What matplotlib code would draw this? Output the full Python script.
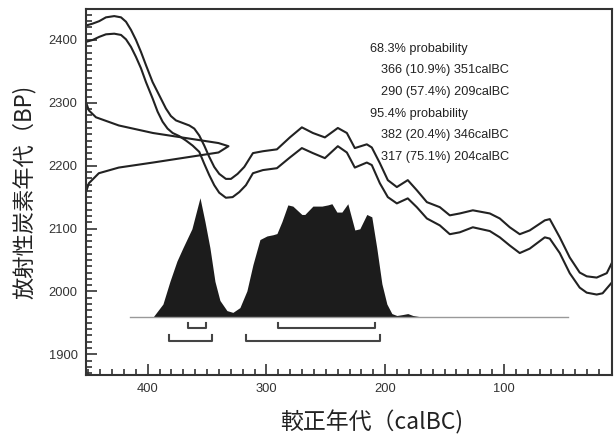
import numpy as np
import matplotlib
matplotlib.use('Agg')
import matplotlib.pyplot as plt

# calibration curve (calBC, BP) - upper envelope
upper_x = [452, 446.4, 440.8, 435.2, 428.2, 422.5, 418.3, 414.1, 409.9, 405.7,
           401.5, 395.9, 390.3, 384.7, 380.5, 376.2, 370.6, 365.0, 360.8, 356.6,
           352.4, 348.2, 344.0, 339.8, 334.2, 329.9, 324.3, 318.7, 311.4, 303.0,
           291.2, 280.3, 270.2, 260.9, 250.8, 239.9, 232.3, 225.6, 215.5, 211.3,
           204.5, 197.8, 190.2, 181.0, 173.4, 164.9, 154.0, 145.6, 137.2, 126.2,
           111.9, 103.5, 95.1, 86.7, 78.3, 65.6, 61.4, 53.0, 44.6, 36.2,
           30.3, 21.9, 13.4, 9.2]
upper_bp = [2423, 2426, 2430, 2436, 2438, 2436, 2429, 2416, 2400, 2381,
            2360, 2333, 2312, 2291, 2279, 2272, 2268, 2264, 2259, 2248,
            2232, 2214, 2198, 2187, 2179, 2179, 2187, 2198, 2220, 2223,
            2226, 2245, 2261, 2252, 2245, 2260, 2252, 2228, 2234, 2229,
            2204, 2177, 2166, 2177, 2161, 2142, 2134, 2121, 2124, 2129,
            2124, 2116, 2102, 2091, 2097, 2113, 2115, 2086, 2054, 2030,
            2024, 2022, 2029, 2045]

# calibration curve - lower envelope
lower_x = [452, 446.4, 440.8, 435.2, 428.2, 422.5, 418.3, 414.1, 409.9, 405.7,
           401.5, 395.9, 391.7, 387.5, 383.3, 379.0, 373.4, 367.8, 362.2, 356.6,
           352.4, 348.2, 344.0, 339.8, 334.2, 328.5, 322.9, 317.3, 311.4, 303.0,
           291.2, 280.3, 270.2, 260.9, 250.8, 239.9, 232.3, 225.6, 215.5, 211.3,
           204.5, 197.8, 190.2, 181.0, 173.4, 164.9, 154.0, 145.6, 137.2, 126.2,
           111.9, 103.5, 95.1, 86.7, 78.3, 65.6, 61.4, 53.0, 44.6, 36.2,
           30.3, 21.9, 16.9, 9.2]
lower_bp = [2397, 2400, 2405, 2409, 2410, 2408, 2401, 2389, 2373, 2355,
            2333, 2307, 2286, 2270, 2259, 2252, 2247, 2240, 2232, 2222,
            2203, 2185, 2169, 2157, 2149, 2150, 2158, 2169, 2188, 2193,
            2196, 2213, 2228, 2220, 2212, 2231, 2221, 2197, 2205, 2201,
            2172, 2150, 2140, 2148, 2134, 2116, 2105, 2091, 2094, 2102,
            2096, 2086, 2073, 2061, 2068, 2086, 2084, 2061, 2029, 2006,
            1998, 1995, 1997, 2014]

# measured radiocarbon age distribution (BP, relative probability)
meas_bp = [2301, 2288, 2277, 2264, 2252, 2244, 2236, 2231, 2221, 2213,
           2205, 2197, 2188, 2172, 2158]
meas_p = [0.0, 0.02, 0.07, 0.23, 0.47, 0.70, 0.93, 1.0, 0.93, 0.70,
          0.47, 0.23, 0.09, 0.02, 0.0]

# calibrated date distribution (calBC, relative probability)
cal_x = [415, 395.6, 387.2, 381.3, 375.4, 370.4, 362.8, 356.0, 351.8, 347.6,
         343.4, 339.2, 333.3, 328.3, 322.4, 316.5, 311.4, 305.5, 299.6, 294.6,
         291.2, 287.0, 282.0, 277.8, 270.2, 267.7, 260.9, 253.3, 248.3, 244.9,
         240.7, 236.5, 231.5, 225.6, 221.4, 215.5, 211.3, 207.1, 202.8, 198.6,
         194.4, 190.2, 185.2, 181.0, 176.7, 168.3, 46]
cal_p = [0, 0, 0.11, 0.30, 0.47, 0.58, 0.74, 1.0, 0.80, 0.58,
         0.30, 0.14, 0.055, 0.04, 0.08, 0.22, 0.44, 0.65, 0.68, 0.69,
         0.70, 0.80, 0.94, 0.93, 0.86, 0.86, 0.93, 0.93, 0.94, 0.95,
         0.88, 0.88, 0.95, 0.73, 0.74, 0.86, 0.84, 0.58, 0.28, 0.11,
         0.03, 0.014, 0.022, 0.03, 0.014, 0, 0]

# probability ranges (from, to calBC)
ranges_68 = [(366, 351), (290, 209)]
ranges_95 = [(382, 346), (317, 204)]

lines = ['68.3% probability',
         '366 (10.9%) 351calBC',
         '290 (57.4%) 209calBC',
         '95.4% probability',
         '382 (20.4%) 346calBC',
         '317 (75.1%) 204calBC']

x_left, x_right = 452, 9
y_bot, y_top = 1867, 2449
base_bp = 1959
ink = '#222222'

plt.rcParams['font.family'] = ['Liberation Sans', 'DejaVu Sans']

fig = plt.figure(figsize=(6.16, 4.37), dpi=100)
ax = fig.add_axes([0.1396, 0.1419, 0.9935 - 0.1396, 0.979 - 0.1419])

ax.plot(upper_x, upper_bp, color=ink, lw=1.5)
ax.plot(lower_x, lower_bp, color=ink, lw=1.5)

# measured distribution drawn from the left axis
mx = x_left - np.array(meas_p) * 120
ax.plot(mx, meas_bp, color=ink, lw=1.5)

# calibrated distribution
cy = base_bp + np.array(cal_p) * 190
ax.fill_between(cal_x, base_bp, cy, color='#1c1c1c', lw=0)
ax.plot([cal_x[0], cal_x[-1]], [base_bp, base_bp], color='#999999', lw=1)

# range brackets
def bracket(x0, x1, y, h=9):
    ax.plot([x0, x0, x1, x1], [y + h, y, y, y + h], color='#444444', lw=1.5)

for a, b in ranges_68:
    bracket(a, b, 1941)
for a, b in ranges_95:
    bracket(a, b, 1921)

# text block
for i, t in enumerate(lines):
    xt = 213 if 'probability' in t else 203.7
    ax.text(xt, 2386.4 - i * 34.5, t, fontsize=9.2, color=ink, va='center', ha='left')

ax.set_xlim(x_left, x_right)
ax.set_ylim(y_bot, y_top)
ax.set_xticks([400, 300, 200, 100])
ax.set_xticks(np.arange(20, 451, 10), minor=True)
ax.set_yticks([1900, 2000, 2100, 2200, 2300, 2400])
ax.set_yticks(np.arange(1870, 2441, 10), minor=True)
ax.tick_params(which='both', direction='in', color='#333333', width=1.2,
               labelsize=9.3, labelcolor='#333333', top=False, right=False)
ax.tick_params(which='major', length=8, pad=6)
ax.tick_params(which='minor', length=4)
for s in ax.spines.values():
    s.set_color('#333333')
    s.set_linewidth(1.5)

cjk = ['Noto Sans CJK JP', 'DejaVu Sans']
ax.text(0.544, -0.128, '較正年代（calBC)', family=cjk, fontsize=16.5, color=ink,
        ha='center', va='center', transform=ax.transAxes)
ax.text(-0.118, 0.5, '放射性炭素年代（BP)', family=cjk, fontsize=16, color=ink,
        ha='center', va='center', rotation=90, transform=ax.transAxes)

fig.savefig('out.png', dpi=100)
